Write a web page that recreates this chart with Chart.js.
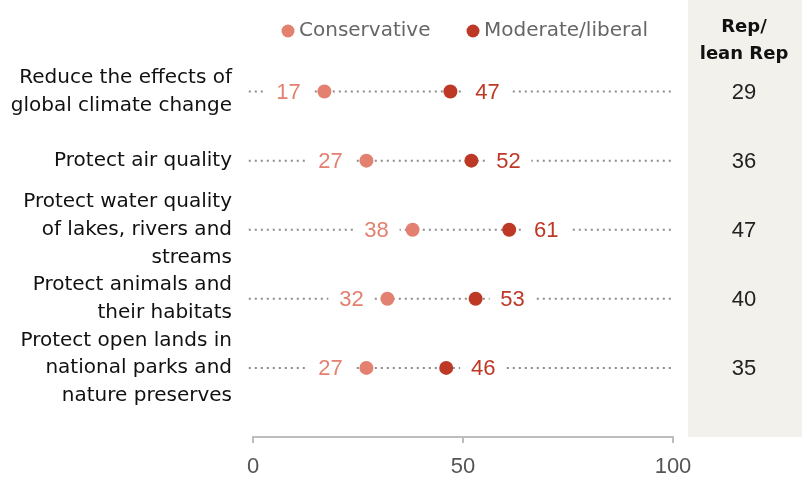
<!DOCTYPE html>
<html>
<head>
<meta charset="utf-8">
<script src="https://cdn.jsdelivr.net/npm/chart.js@4"></script>
<style>
  html, body { margin: 0; padding: 0; background: #fff; }
  #wrap { width: 802px; height: 478px; }
</style>
</head>
<body>
<div id="wrap"><canvas id="chart" width="802" height="478"></canvas></div>
<script>
// Data
const categories = [
    ['Reduce the effects of', 'global climate change'],
    ['Protect air quality'],
    ['Protect water quality', 'of lakes, rivers and', 'streams'],
    ['Protect animals and', 'their habitats'],
    ['Protect open lands in', 'national parks and', 'nature preserves']
];
const conservative = [17, 27, 38, 32, 27];
const moderateLiberal = [47, 52, 61, 53, 46];
const repLeanRep = [29, 36, 47, 40, 35];
const seriesNames = ['Conservative', 'Moderate/liberal'];
const xTicks = [0, 50, 100];
const panelTitle = ['Rep/', 'lean Rep'];

const consColor = '#E3806F';
const libColor = '#BE3826';
const TEXT_FONT = '"DejaVu Sans", sans-serif';
const NUM_FONT = '"Liberation Sans", Arial, sans-serif';

// Dotted guide line per row, spanning the full x range (a bit past 0, unclipped)
const rowLines = categories.map((c, i) => ({
    type: 'line',
    data: [{ x: -1, y: i }, { x: 100, y: i }],
    borderColor: '#8c8c8c',
    borderWidth: 2,
    borderDash: [2, 4],
    pointRadius: 0,
    clip: false,
    order: 3
}));

const datasets = rowLines.concat([
    {
        label: seriesNames[0],
        data: conservative.map((v, i) => ({ x: v, y: i })),
        backgroundColor: consColor,
        borderWidth: 0,
        pointRadius: 7,
        order: 1
    },
    {
        label: seriesNames[1],
        data: moderateLiberal.map((v, i) => ({ x: v, y: i })),
        backgroundColor: libColor,
        borderWidth: 0,
        pointRadius: 7,
        order: 1
    }
]);

/**
 * Value labels next to dots, with a white box that breaks the dotted line
 */
const valueLabels = {
    id: 'valueLabels',
    afterDatasetsDraw(chart) {
        const ctx = chart.ctx;
        const xs = chart.scales.x;
        const ys = chart.scales.y;
        ctx.save();
        ctx.font = '22px ' + NUM_FONT;
        ctx.textAlign = 'center';
        ctx.textBaseline = 'middle';
        const draw = (vals, color, offset) => {
            vals.forEach((v, i) => {
                const cx = xs.getPixelForValue(v) + offset;
                const cy = ys.getPixelForValue(i);
                ctx.fillStyle = '#fff';
                ctx.fillRect(cx - 23, cy - 12, 46, 24);
                ctx.fillStyle = color;
                ctx.fillText(String(v), cx, cy + 1);
            });
        };
        draw(conservative, consColor, -36);
        draw(moderateLiberal, libColor, 37);
        ctx.restore();
    }
};

/**
 * Shaded Rep/lean Rep column on the right
 */
const repPanel = {
    id: 'repPanel',
    beforeDraw(chart) {
        const ctx = chart.ctx;
        const bottom = chart.chartArea.bottom;
        ctx.save();
        ctx.fillStyle = '#F3F1EC';
        ctx.fillRect(688, 0, chart.width - 688, bottom);
        ctx.restore();
    },
    afterDraw(chart) {
        const ctx = chart.ctx;
        const ys = chart.scales.y;
        const cx = 744;
        ctx.save();
        ctx.textAlign = 'center';
        ctx.textBaseline = 'middle';
        ctx.fillStyle = '#111';
        ctx.font = 'bold 18px ' + TEXT_FONT;
        panelTitle.forEach((t, i) => ctx.fillText(t, cx, 27 + i * 27));
        ctx.font = '22px ' + NUM_FONT;
        ctx.fillStyle = '#222';
        repLeanRep.forEach((v, i) => ctx.fillText(String(v), cx, ys.getPixelForValue(i) + 1));
        ctx.restore();
    }
};

/**
 * Legend drawn by hand so it sits over the dot area
 */
const topLegend = {
    id: 'topLegend',
    afterDraw(chart) {
        const ctx = chart.ctx;
        const items = [
            { text: seriesNames[0], color: consColor, x: 288 },
            { text: seriesNames[1], color: libColor, x: 473 }
        ];
        ctx.save();
        ctx.font = '20px ' + TEXT_FONT;
        ctx.textBaseline = 'middle';
        ctx.textAlign = 'left';
        items.forEach(it => {
            ctx.fillStyle = it.color;
            ctx.beginPath();
            ctx.arc(it.x, 31, 6.5, 0, Math.PI * 2);
            ctx.fill();
            ctx.fillStyle = '#666';
            ctx.fillText(it.text, it.x + 11, 31);
        });
        ctx.restore();
    }
};

new Chart(document.getElementById('chart'), {
    type: 'scatter',
    data: { datasets: datasets },
    plugins: [repPanel, valueLabels, topLegend],
    options: {
        responsive: false,
        animation: false,
        layout: { padding: { top: 57, right: 129, bottom: 0, left: 0 } },
        plugins: {
            legend: { display: false },
            tooltip: { enabled: false }
        },
        scales: {
            x: {
                type: 'linear',
                min: 0,
                max: 100,
                afterBuildTicks: axis => { axis.ticks = xTicks.map(v => ({ value: v })); },
                afterFit: axis => { axis.height = 41; },
                grid: {
                    drawOnChartArea: false,
                    drawTicks: true,
                    tickLength: 6,
                    color: '#bdbdbd',
                    lineWidth: 2
                },
                border: { color: '#bdbdbd', width: 2 },
                ticks: {
                    color: '#555',
                    padding: 11,
                    font: { family: NUM_FONT, size: 22 }
                }
            },
            y: {
                type: 'linear',
                reverse: true,
                min: -0.5,
                max: 5,
                afterBuildTicks: axis => { axis.ticks = categories.map((c, i) => ({ value: i })); },
                afterFit: axis => {
                    axis.width = 253;
                    axis.paddingTop = 0;
                    axis.paddingBottom = 0;
                },
                grid: { display: false, drawTicks: false },
                border: { display: false },
                ticks: {
                    color: '#111',
                    padding: 21,
                    font: { family: TEXT_FONT, size: 20, lineHeight: 1.38 },
                    callback: (v) => categories[v]
                }
            }
        }
    }
});
</script>
</body>
</html>
